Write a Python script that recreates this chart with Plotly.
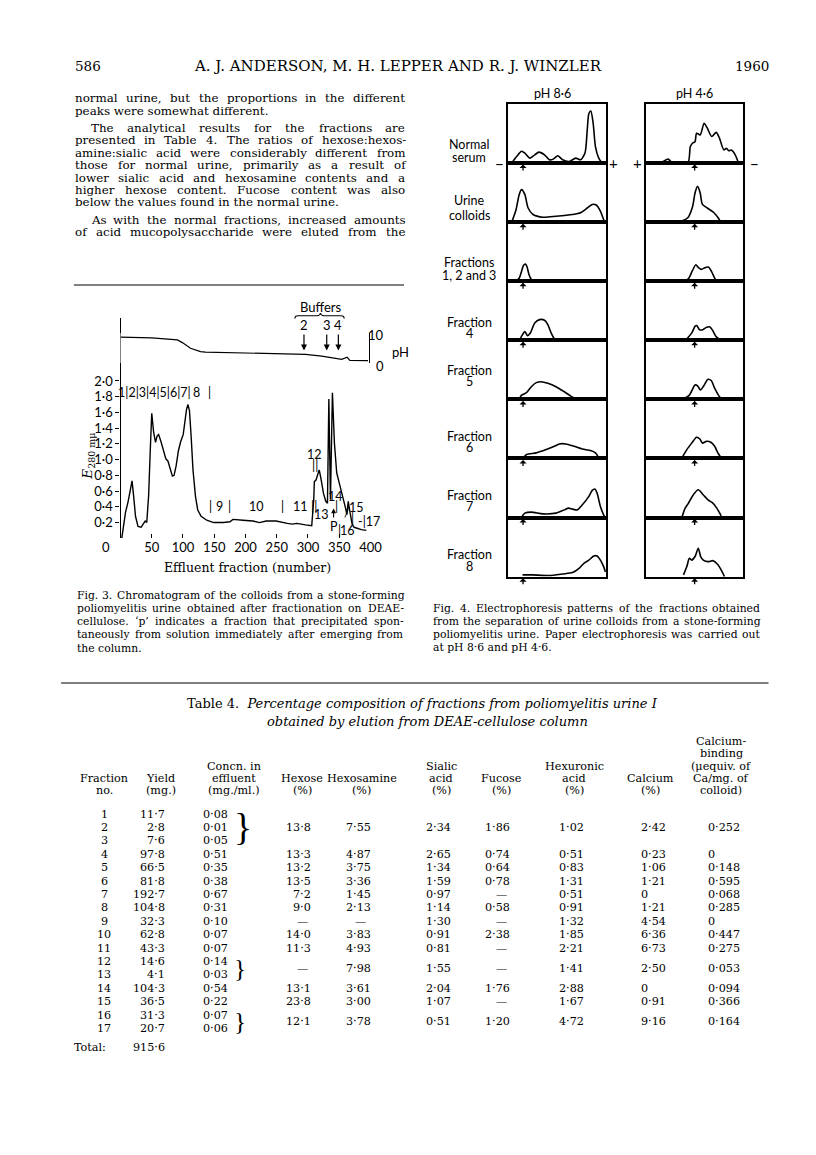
import plotly.graph_objects as go

W, H = 816, 1155
def px(v): return v / W
def py(v): return 1 - v / H

SERIF = "DejaVu Serif"
SANS = "Lato"

# ---------------- Fig. 3 data ----------------
effluent_fraction = [2, 5, 8, 12, 16.4, 18.5, 21, 24, 28, 33, 37, 39.5, 42, 45, 47.5, 50, 53, 56, 58.5, 61,
                     64.7, 69, 72.6, 76, 79.4, 83, 85.7, 89, 92.6, 96, 100.4, 103, 105.7, 108, 110.4, 113,
                     116, 120, 123.6, 129, 138, 149, 164.6, 175, 180, 196, 212, 222.5, 233, 249, 259, 267,
                     275, 282, 296, 306, 309.2, 310.2, 312.8, 316, 318, 321.2, 324.8, 328.5, 331.2, 333.4,
                     336, 339.1, 342.3, 346, 351.3, 356.5, 360.2, 362.3, 364.4, 367.5, 370.7, 373.8, 385.5, 393.3]
e280 = [0, 0.18, 0.33, 0.46, 0.67, 0.73, 0.54, 0.28, 0.15, 0.14, 0.19, 0.22, 0.20, 0.54, 1.09, 1.59, 1.35,
        1.22, 1.30, 1.32, 1.23, 1.11, 1.01, 0.98, 0.87, 0.79, 0.80, 0.92, 1.11, 1.22, 1.32, 1.47, 1.64, 1.70,
        1.62, 1.30, 0.87, 0.53, 0.36, 0.28, 0.23, 0.20, 0.20, 0.21, 0.24, 0.23, 0.22, 0.20, 0.22, 0.22, 0.20,
        0.19, 0.18, 0.19, 0.17, 0.16, 0.49, 0.72, 0.74, 0.83, 0.87, 0.74, 0.57, 0.47, 0.445, 1.77, 0.49, 1.85,
        1.21, 0.83, 0.66, 0.53, 0.38, 0.30, 0.47, 0.32, 0.18, 0.14, 0.11, 0.10]
ph_fraction = [0, 50, 91, 99, 112, 128, 136, 217, 296, 322, 354, 362.6, 367, 396]
ph_value = [8.6, 8.4, 7.7, 6.8, 4.9, 3.8, 3.6, 3.2, 2.9, 2.3, 1.2, 1.9, 0.9, 0.8]
buffer_labels = ["2", "3", "4"]
buffer_fraction = [293.6, 330, 348.6]
x_ticks = [50, 100, 150, 200, 250, 300, 350, 400]
y_ticks = [0.2, 0.4, 0.6, 0.8, 1.0, 1.2, 1.4, 1.6, 1.8, 2.0]
y_ticktext = ["0·2", "0·4", "0·6", "0·8", "1·0", "1·2", "1·4", "1·6", "1·8", "2·0"]
frac_label_text = ["1|2|3|4|5|6|7|", "8", "|", "|", "9", "|", "10", "|", "11", "||", "12", "||",
                   "13", "14", "|", "|", "16", "/", "15", "|", "-|17"]
frac_label_x = [55, 121, 143, 143.6, 159, 175, 217, 260, 288, 309, 310.5, 310.5,
                322.4, 343.4, 346, 350, 364, 363, 377.6, 370.7, 397]
frac_label_e = [1.85, 1.85, 1.85, 0.40, 0.40, 0.40, 0.40, 0.40, 0.40, 0.40, 1.06, 0.93,
                0.30, 0.53, 0.40, 0.10, 0.10, 0.33, 0.39, 0.25, 0.21]

# ---------------- Fig. 4 data (position % of strip, height % of panel) ----------------
serum86_u = [3.4, 8.4, 13.5, 16.8, 22, 27, 31.3, 37, 42, 46, 50.5, 55.6, 62.3, 69, 74, 78.5, 80.8, 82.5, 84.5, 86.9, 89.2, 92.6, 96]
serum86_v = [0, 11, 20, 17, 8.4, 14, 18.5, 14, 5.6, 6.7, 12.4, 5.6, 2.8, 8.4, 5.6, 17, 56, 84, 88, 67, 28, 8.4, 0]
serum46_u = [14, 17.8, 22.8, 27.8, 43, 45.6, 48, 50.4, 52, 55.7, 59.7, 63, 67.5, 72.2, 75.5, 79.9, 82.6, 85, 87.6, 91.6, 95]
serum46_v = [0, 2.8, 6.7, 0, 0, 28, 34, 36, 50.6, 47.7, 67.5, 59, 45, 52, 42, 22.4, 25, 21, 22, 14, 0]
urine86_u = [3.4, 7.8, 11.1, 13.5, 16.8, 20.2, 25.3, 35.4, 48.8, 65.7, 74, 80.8, 85.9, 90, 94.3, 97.6, 99]
urine86_v = [0, 21, 47, 55, 47, 24, 13, 8.4, 10, 13, 16, 24, 30, 29, 18.5, 4.5, 0]
urine46_u = [36.3, 43, 48, 50.4, 53, 55.7, 58, 63, 69.8, 74.8, 76.5]
urine46_v = [1.7, 7.4, 27, 49.5, 60.6, 49.5, 30, 24, 16, 5.7, 0]
f123_86_u = [8, 11, 13.5, 15.5, 17.4, 19, 21, 23.5, 26]
f123_86_v = [0, 5, 17, 27, 29, 25, 12, 3, 0]
f123_46_u = [40, 44, 47.5, 51.2, 54, 57, 60.5, 64, 67.5, 71, 74]
f123_46_v = [0, 5, 17, 28, 23, 20, 23, 24, 16, 4, 0]
f4_86_u = [11.1, 14.5, 16.8, 19.5, 22.5, 27, 32, 37, 40.4, 43.8, 47.1, 48.8]
f4_86_v = [0, 9.6, 15, 8, 12.5, 29.5, 35, 34, 26.6, 12.5, 2.3, 0]
f4_46_u = [41.4, 47.1, 50.5, 52.2, 54.9, 58.3, 62.3, 65.7, 68.4, 71.7, 75.8]
f4_46_v = [1, 12.5, 24, 25, 18, 18, 22, 22.7, 17, 6.8, 1]
f5_86_u = [11.1, 13.5, 18.5, 23.5, 28.6, 33.6, 40.4, 48.8, 57.3, 64, 69, 71.7]
f5_86_v = [0, 7.3, 11.3, 21.5, 28.4, 30, 27.3, 21.5, 13, 5.6, 1, 0]
f5_46_u = [38.6, 44.6, 50.4, 53, 56, 59.3, 63.7, 67, 70.5, 75.5, 78]
f5_46_v = [1, 7.3, 24.4, 23, 16, 22.7, 34, 32, 19, 4.4, 1]
f6_86_u = [15.2, 18.5, 28.6, 38.7, 47.1, 52.2, 58.9, 67.3, 75.8, 84.1, 89.2, 92.6]
f6_86_v = [0, 6.7, 9.5, 15, 20.6, 24.6, 24.6, 20.6, 16, 13.4, 9.5, 1.1]
f6_46_u = [37, 42, 47, 52, 55.4, 58, 62, 67, 70.5, 73.8, 77.2]
f6_46_v = [1, 15, 26, 36, 33, 26, 29, 27, 20.6, 9.5, 1]
f7_86_u = [13.5, 16.8, 23.5, 35.4, 48.8, 57.3, 61.6, 65.7, 70.7, 75.8, 82.5, 85.9, 88.6, 90.9, 94.3, 97.6, 99]
f7_86_v = [0.7, 7.5, 9.2, 6.3, 7.5, 13, 16, 14.3, 13, 21.6, 35.8, 46, 48.4, 41.6, 18.7, 4.6, 0]
f7_46_u = [37, 40.3, 43.7, 48.7, 53.7, 58.7, 63.7, 68.7, 72.7, 77.2]
f7_46_v = [0.7, 16, 24.5, 38.7, 47, 38.7, 30, 24.5, 16, 3]
f8_86_u = [14.5, 24.6, 41.4, 55.6, 65.7, 72.4, 77.4, 82.5, 87.5, 90.9, 94.3, 97.6, 99.5]
f8_86_v = [3, 3, 2, 4.5, 6.8, 14, 22.6, 28, 35, 35, 28, 17, 8]
f8_46_u = [38.6, 42, 44.6, 47, 50.4, 53.7, 56.2, 58.9, 63.9, 68.9, 73.9, 78.9, 80.6]
f8_46_v = [3, 17, 31, 28, 34, 48, 34, 28, 25.4, 27, 20, 6, 0]
row_names = [["Normal", "serum"], ["Urine", "colloids"], ["Fractions", "1, 2 and 3"], ["Fraction", "4"],
             ["Fraction", "5"], ["Fraction", "6"], ["Fraction", "7"], ["Fraction", "8"]]
origin_pos = [15, 50]  # application point (%) for pH 8.6 and pH 4.6 strips

# ---------------- Table 4 data ----------------
fraction_no = [str(i) for i in range(1, 18)]
yield_mg = ["11·7", "2·8", "7·6", "97·8", "66·5", "81·8", "192·7", "104·8", "32·3", "62·8", "43·3",
            "14·6", "4·1", "104·3", "36·5", "31·3", "20·7"]
concn = ["0·08", "0·01", "0·05", "0·51", "0·35", "0·38", "0·67", "0·31", "0·10", "0·07", "0·07",
         "0·14", "0·03", "0·54", "0·22", "0·07", "0·06"]
analysis_rows = [2, 4, 5, 6, 7, 8, 9, 10, 11, 12.5, 14, 15, 16.5]
hexose = ["13·8", "13·3", "13·2", "13·5", "7·2", "9·0", "—", "14·0", "11·3", "—", "13·1", "23·8", "12·1"]
hexosamine = ["7·55", "4·87", "3·75", "3·36", "1·45", "2·13", "—", "3·83", "4·93", "7·98", "3·61", "3·00", "3·78"]
sialic = ["2·34", "2·65", "1·34", "1·59", "0·97", "1·14", "1·30", "0·91", "0·81", "1·55", "2·04", "1·07", "0·51"]
fucose = ["1·86", "0·74", "0·64", "0·78", "—", "0·58", "—", "2·38", "—", "—", "1·76", "—", "1·20"]
hexuronic = ["1·02", "0·51", "0·83", "1·31", "0·51", "0·91", "1·32", "1·85", "2·21", "1·41", "2·88", "1·67", "4·72"]
calcium = ["2·42", "0·23", "1·06", "1·21", "0", "1·21", "4·54", "6·36", "6·73", "2·50", "0", "0·91", "9·16"]
ca_binding = ["0·252", "0", "0·148", "0·595", "0·068", "0·285", "0", "0·447", "0·275", "0·053", "0·094", "0·366", "0·164"]
brace_groups = [(1, 3), (12, 13), (16, 17)]
total_yield = "915·6"

# ---------------- figure ----------------
fig = go.Figure()
ann = []
shapes = []

def txt(s, x, y, size=11.5, family=SERIF, xanchor="center", yanchor="middle", **kw):
    d = dict(text=s, x=px(x), y=py(y), xref="paper", yref="paper", showarrow=False,
             xanchor=xanchor, yanchor=yanchor, font=dict(family=family, size=size, color="black"))
    d.update(kw)
    return d

# approximate DejaVu Serif advance widths (em) used to justify lines
CW = {" ": .318, ",": .318, ".": .318, ":": .337, "-": .338, "‘": .318, "’": .318, "(": .39, ")": .39,
      "·": .318, "a": .596, "b": .640, "c": .560, "d": .640, "e": .592, "f": .370, "g": .640, "h": .644,
      "i": .320, "j": .310, "k": .606, "l": .320, "m": .948, "n": .644, "o": .602, "p": .640, "q": .640,
      "r": .478, "s": .513, "t": .402, "u": .644, "v": .565, "w": .856, "x": .564, "y": .565, "z": .523,
      "A": .722, "C": .765, "D": .802, "E": .730, "F": .694, "P": .673, "T": .667, "H": .872}
def text_w(s, size):
    return sum(CW.get(ch, 0.636) for ch in s) * size

def put_line(line, x0, x1, y, size, justify=True):
    words = line.split()
    if not justify or len(words) < 2:
        ann.append(txt(line, x0, y, size, SERIF, xanchor="left"))
        return
    widths = [text_w(w, size) for w in words]
    gap = (x1 - x0 - sum(widths)) / (len(words) - 1)
    x = x0
    for w, wd in zip(words, widths):
        ann.append(txt(w, x, y, size, SERIF, xanchor="left"))
        x += wd + gap

# Fig 3 traces
fig.add_trace(go.Scatter(x=effluent_fraction, y=e280, mode="lines", xaxis="x", yaxis="y",
                         line=dict(color="black", width=1.4), hoverinfo="skip"))
fig.add_trace(go.Scatter(x=ph_fraction, y=ph_value, mode="lines", xaxis="x", yaxis="y2",
                         line=dict(color="black", width=1.2), hoverinfo="skip"))

layout_axes = {}
layout_axes["xaxis"] = dict(domain=[px(122.3), px(376)], range=[0, 400], anchor="y", showline=False,
                            ticks="inside", ticklen=4, tickwidth=1, tickcolor="black", tickvals=x_ticks,
                            tickfont=dict(family=SANS, size=13, color="black"), showgrid=False, zeroline=False)
layout_axes["yaxis"] = dict(domain=[py(538.3), py(318)], range=[0, 2.8], anchor="x", showline=True,
                            linewidth=1.3, linecolor="black", ticks="outside", ticklen=4, tickwidth=1,
                            tickcolor="black", tickvals=y_ticks, ticktext=y_ticktext,
                            tickfont=dict(family=SANS, size=13, color="black"), showgrid=False, zeroline=False)
layout_axes["yaxis2"] = dict(domain=[py(363), py(333)], range=[0, 10], anchor="free", position=px(375),
                             side="right", showline=True, linewidth=1.3, linecolor="black", ticks="inside",
                             ticklen=6, tickwidth=1.3, tickcolor="black", tickvals=[0, 10],
                             showticklabels=False, showgrid=False, zeroline=False)

for t, xv, ev in zip(frac_label_text, frac_label_x, frac_label_e):
    ann.append(dict(text=t, x=min(xv, 400), y=ev, xref="x", yref="y", showarrow=False,
                    xshift=(max(xv, 400) - 400) * 0.634,
                    font=dict(family=SANS, size=12.5, color="black")))
# P arrow
ann.append(dict(text="P", x=341, y=0.38, xref="x", yref="y", ax=341, ay=0.15, axref="x", ayref="y",
                showarrow=True, arrowhead=2, arrowsize=0.9, arrowwidth=1.1, arrowcolor="black",
                font=dict(family=SANS, size=12.5, color="black")))
# buffer arrows
for lab, bx in zip(buffer_labels, buffer_fraction):
    ann.append(dict(text=lab, x=bx, y=4.2, xref="x", yref="y2", ax=bx, ay=12.7, axref="x", ayref="y2",
                    showarrow=True, arrowhead=2, arrowsize=1, arrowwidth=1.2, arrowcolor="black",
                    font=dict(family=SANS, size=13, color="black")))
ann.append(dict(text="Buffers", x=321, y=py(306.5), xref="x", yref="paper", showarrow=False,
                xanchor="center", yanchor="middle", font=dict(family=SANS, size=13, color="black")))
shapes.append(dict(type="path", xref="x", yref="paper", line=dict(color="black", width=1.1),
                   path=(f"M 279,{py(318.5)} Q 279,{py(315.7)} 284,{py(315.7)} L 315,{py(315.7)} "
                         f"Q 319,{py(315.7)} 320,{py(313)} Q 321,{py(315.7)} 325,{py(315.7)} "
                         f"L 353,{py(315.7)} Q 358,{py(315.7)} 358,{py(318.5)}")))
ann.append(txt("10", 392, 335, 13, SANS, xanchor="right"))
ann.append(txt("0", 392, 366, 13, SANS, xanchor="right"))
ann.append(txt("pH", 396, 352, 13, SANS, xanchor="left"))
ann.append(txt("0", 108, 547, 13, SANS))
ann.append(txt("<i>E</i><sub>280 mμ</sub>", 89, 456, 13.5, SERIF, textangle=-90))
ann.append(txt("Effluent fraction (number)", 251, 567, 12.5, SERIF))

# Fig 4 panels
panels = [(serum86_u, serum86_v), (urine86_u, urine86_v), (f123_86_u, f123_86_v), (f4_86_u, f4_86_v),
          (f5_86_u, f5_86_v), (f6_86_u, f6_86_v), (f7_86_u, f7_86_v), (f8_86_u, f8_86_v),
          (serum46_u, serum46_v), (urine46_u, urine46_v), (f123_46_u, f123_46_v), (f4_46_u, f4_46_v),
          (f5_46_u, f5_46_v), (f6_46_u, f6_46_v), (f7_46_u, f7_46_v), (f8_46_u, f8_46_v)]
col_edges = [(516, 615), (655.5, 754.5)]
top0, row_h = 104, 59.08
for k, (u, v) in enumerate(panels):
    n = k + 3
    col, row = k // 8, k % 8
    l, r = col_edges[col]
    t = top0 + row * row_h
    b = t + row_h
    fig.add_trace(go.Scatter(x=u, y=v, mode="lines", xaxis=f"x{n}", yaxis=f"y{n}",
                             line=dict(color="black", width=1.6, shape="spline", smoothing=0.7),
                             hoverinfo="skip"))
    ax_style = dict(showline=True, mirror=True, linewidth=2, linecolor="black", showticklabels=False,
                    ticks="", showgrid=False, zeroline=False)
    layout_axes[f"xaxis{n}"] = dict(domain=[px(l), px(r)], range=[0, 100], anchor=f"y{n}", **ax_style)
    layout_axes[f"yaxis{n}"] = dict(domain=[py(b), py(t)], range=[0, 100], anchor=f"x{n}", **ax_style)
    ann.append(dict(text="", x=origin_pos[col], y=0, xref=f"x{n}", yref=f"y{n}", ax=0, ay=9,
                    showarrow=True, arrowhead=1, arrowsize=0.9, arrowwidth=1.3, arrowcolor="black", standoff=1.5))

label_y = [(145, 157.3), (201, 215), (262.7, 276), (322.7, 333.5), (370.7, 381.7), (436, 447.7),
           (495.5, 506.5), (554.5, 566)]
for names, ys in zip(row_names, label_y):
    for nm, yy in zip(names, ys):
        ann.append(txt(nm, 476, yy, 12.5, SANS))
ann.append(txt("pH 8·6", 561, 93, 12.5, SANS))
ann.append(txt("pH 4·6", 705, 93, 12.5, SANS))
ann.append(txt("−", 507, 164, 15, SANS))
ann.append(txt("+", 623, 163, 15, SANS))
ann.append(txt("+", 647, 163, 15, SANS))
ann.append(txt("−", 766, 164, 15, SANS))

# header
ann.append(txt("586", 74, 66, 13.5, SERIF, xanchor="left"))
ann.append(txt("A. J. ANDERSON, M. H. LEPPER AND R. J. WINZLER", 404, 66, 15, SERIF))
ann.append(txt("1960", 782, 66, 13.5, SERIF, xanchor="right"))

# body text (justified column 74..410)
body = [("normal urine, but the proportions in the different", 74, 98.3, True),
        ("peaks were somewhat different.", 74, 111, False),
        ("The analytical results for the fractions are", 90, 127.7, True),
        ("presented in Table 4. The ratios of hexose:hexos-", 74, 140, True),
        ("amine:sialic acid were considerably different from", 74, 152.7, True),
        ("those for normal urine, primarily as a result of", 74, 165, True),
        ("lower sialic acid and hexosamine contents and a", 74, 178.3, True),
        ("higher hexose content.  Fucose content was also", 74, 190, True),
        ("below the values found in the normal urine.", 74, 202.3, False),
        ("As with the normal fractions, increased amounts", 90, 220, True),
        ("of acid mucopolysaccharide were eluted from the", 74, 231.7, True)]
for s, x0, y0, j in body:
    put_line(s, x0, 409, y0, 11.9, j)

cap3 = ["Fig. 3.  Chromatogram of the colloids from a stone-forming",
        "poliomyelitis urine obtained after fractionation on DEAE-",
        "cellulose.  ‘p’ indicates a fraction that precipitated spon-",
        "taneously from solution immediately after emerging from",
        "the column."]
for i, s in enumerate(cap3):
    put_line(s, 76, 407, 595 + i * 13.3, 10.8, i < 4)
cap4 = ["Fig. 4.  Electrophoresis patterns of the fractions obtained",
        "from the separation of urine colloids from a stone-forming",
        "poliomyelitis urine.  Paper electrophoresis was carried out",
        "at pH 8·6 and pH 4·6."]
for i, s in enumerate(cap4):
    put_line(s, 437, 769, 608 + i * 13.1, 10.8, i < 3)

shapes.append(dict(type="line", xref="paper", yref="paper", x0=px(75), x1=px(410), y0=py(285), y1=py(285),
                   line=dict(color="black", width=1)))
shapes.append(dict(type="line", xref="paper", yref="paper", x0=px(62), x1=px(780), y0=py(683), y1=py(683),
                   line=dict(color="black", width=1)))

# table
ann.append(txt("Table 4.  <i>Percentage composition of fractions from poliomyelitis urine I</i>", 429, 703.3, 13, SERIF))
ann.append(txt("<i>obtained by elution from DEAE-cellulose column</i>", 434, 721, 13, SERIF))
hdr_y = [741.6, 753.9, 766.2, 778.5, 790.8]
headers = [(106, ["Fraction", "no."]), (163, ["Yield", "(mg.)"]), (237, ["Concn. in", "effluent", "(mg./ml.)"]),
           (307, ["Hexose", "(%)"]), (367, ["Hexosamine", "(%)"]), (448, ["Sialic", "acid", "(%)"]),
           (509, ["Fucose", "(%)"]), (583, ["Hexuronic", "acid", "(%)"]), (660, ["Calcium", "(%)"]),
           (732, ["Calcium-", "binding", "(μequiv. of", "Ca/mg. of", "colloid)"])]
for cx, lines in headers:
    for j, s in enumerate(lines):
        ann.append(txt(s, cx, hdr_y[5 - len(lines) + j], 11.2, SERIF))

def row_y(r):
    return 814 + (r - 1) * 13.4

for i in range(17):
    yy = row_y(i + 1)
    ann.append(txt(fraction_no[i], 106, yy, 11.2, SERIF))
    ann.append(txt(yield_mg[i], 169, yy, 11.2, SERIF, xanchor="right"))
    ann.append(txt(concn[i], 233.5, yy, 11.2, SERIF, xanchor="right"))
for a, b in brace_groups:
    span = row_y(b) - row_y(a) + 13
    ann.append(txt("}", 235, (row_y(a) + row_y(b)) / 2, span * 0.95, "Liberation Serif", xanchor="left"))

right_cols = [(hexose, 318, 307), (hexosamine, 378.5, 366), (sialic, 460, 448), (fucose, 520, 509),
              (hexuronic, 595, 583)]
left_cols = [(calcium, 648.5), (ca_binding, 716.5)]
for i, r in enumerate(analysis_rows):
    yy = row_y(r)
    for vals, rx, cx in right_cols:
        if vals[i] == "—":
            ann.append(txt("—", cx, yy, 11.2, SERIF))
        else:
            ann.append(txt(vals[i], rx, yy, 11.2, SERIF, xanchor="right"))
    for vals, lx in left_cols:
        ann.append(txt(vals[i], lx, yy, 11.2, SERIF, xanchor="left"))
ann.append(txt("Total:", 73, row_y(17) + 19, 11.2, SERIF, xanchor="left"))
ann.append(txt(total_yield, 169, row_y(17) + 19, 11.2, SERIF, xanchor="right"))

fig.update_layout(width=W, height=H, margin=dict(l=0, r=0, t=0, b=0), paper_bgcolor="white",
                  plot_bgcolor="white", showlegend=False, annotations=ann, shapes=shapes, **layout_axes)
fig.write_html("out.html", config={"displayModeBar": False},
               post_script="document.body.style.margin='0';document.body.style.overflow='hidden';")
